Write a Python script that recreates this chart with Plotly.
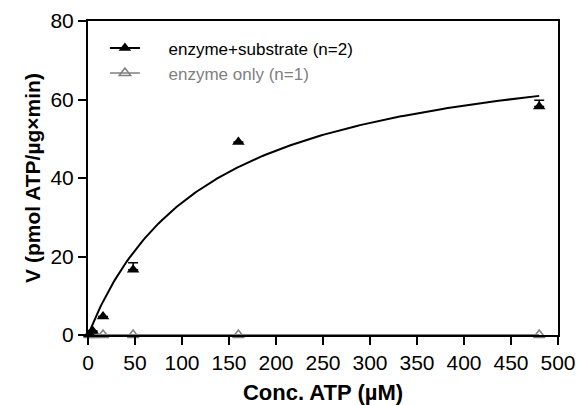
import numpy as np
import plotly.graph_objects as go

# Data
conc = [1.5, 5, 16, 48, 160, 480]
v_sub = [0.2, 1.0, 4.7, 16.6, 49.2, 58.2]
v_sub_err = [0, 0, 0, 1.8, 0, 1.6]
v_sub_err_minus = [0, 0, 0, 0, 0, 0]
v_enz = [0, 0, 0, 0, 0, 0]

# Michaelis-Menten fit parameters (estimated from the drawn fit curve)
VMAX = 77.3
KM = 129.0
ENZ_FIT = 0.0

x_fit = np.linspace(0, 480, 200)
y_fit_sub = VMAX * x_fit / (KM + x_fit)
y_fit_enz = np.full_like(x_fit, ENZ_FIT)

FONT = "Liberation Sans, Arial, sans-serif"
GRAY = "#808080"

fig = go.Figure()

# fit lines
fig.add_trace(go.Scatter(x=x_fit, y=y_fit_enz, mode="lines",
                         line=dict(color=GRAY, width=2), showlegend=False,
                         cliponaxis=False, hoverinfo="skip"))
fig.add_trace(go.Scatter(x=x_fit, y=y_fit_sub, mode="lines",
                         line=dict(color="black", width=2), showlegend=False,
                         cliponaxis=False, hoverinfo="skip"))

# data points
fig.add_trace(go.Scatter(x=conc, y=v_enz, mode="markers",
                         marker=dict(symbol="triangle-up-open", size=10, color=GRAY,
                                     line=dict(color=GRAY, width=1.5)),
                         showlegend=False, cliponaxis=False))
fig.add_trace(go.Scatter(x=conc, y=v_sub, mode="markers",
                         marker=dict(symbol="triangle-up", size=11, color="black"),
                         error_y=dict(type="data", symmetric=False, array=v_sub_err,
                                      arrayminus=v_sub_err_minus, visible=True,
                                      color="black", thickness=1.5, width=5),
                         showlegend=False, cliponaxis=False))

# legend entries
fig.add_trace(go.Scatter(x=[None], y=[None], mode="lines+markers",
                         name="\u00a0\u00a0\u00a0\u00a0\u00a0enzyme+substrate (n=2)",
                         line=dict(color="black", width=2),
                         marker=dict(symbol="triangle-up", size=11, color="black")))
fig.add_trace(go.Scatter(x=[None], y=[None], mode="lines+markers",
                         name="\u00a0\u00a0\u00a0\u00a0\u00a0<span style='color:#808080'>enzyme only (n=1)</span>",
                         line=dict(color=GRAY, width=1.5),
                         marker=dict(symbol="triangle-up-open", size=10, color=GRAY,
                                     line=dict(color=GRAY, width=1.5))))

fig.update_layout(
    width=578, height=397,
    margin=dict(l=80, r=28, t=13, b=70),
    plot_bgcolor="white", paper_bgcolor="white",
    font=dict(family=FONT, size=21, color="black"),
    showlegend=True,
    legend=dict(x=0.036, y=0.97, xanchor="left", yanchor="top",
                bgcolor="rgba(0,0,0,0)", font=dict(size=17, family=FONT),
                tracegroupgap=0, itemwidth=30),
    xaxis=dict(range=[0, 500], tickvals=list(range(0, 501, 50)),
               showgrid=False, zeroline=False, showline=True, mirror=True,
               linecolor="black", linewidth=2, ticks="outside", ticklen=8,
               tickwidth=2, tickcolor="black", automargin=False,
               tickfont=dict(size=21),
               title=dict(text="<b>Conc. ATP (µM)</b>", font=dict(size=22), standoff=16)),
    yaxis=dict(range=[0, 80], tickvals=[0, 20, 40, 60, 80],
               showgrid=False, zeroline=False, showline=True, mirror=True,
               linecolor="black", linewidth=2, ticks="outside", ticklen=8,
               tickwidth=2, tickcolor="black", automargin=False,
               tickfont=dict(size=21),
               title=dict(text="<b>V (pmol ATP/µg×min)</b>", font=dict(size=21), standoff=4)),
)

fig.write_html("out.html")
